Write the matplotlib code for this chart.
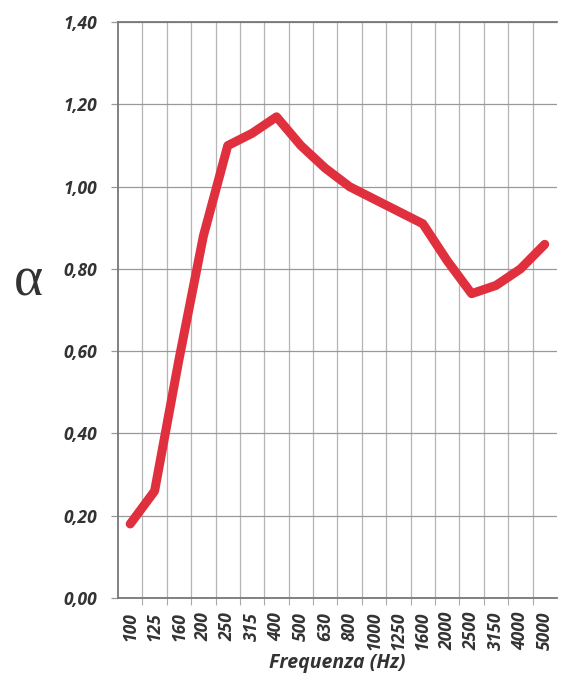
import matplotlib.pyplot as plt
import numpy as np

# third-octave bands and sound absorption coefficient
bands = ["100", "125", "160", "200", "250", "315", "400", "500", "630",
         "800", "1000", "1250", "1600", "2000", "2500", "3150", "4000", "5000"]
alpha = [0.18, 0.26, 0.58, 0.88, 1.10, 1.13, 1.17, 1.10, 1.045,
         1.00, 0.97, 0.94, 0.91, 0.82, 0.74, 0.76, 0.80, 0.86]
yticks = [0.0, 0.2, 0.4, 0.6, 0.8, 1.0, 1.2, 1.4]
ylabels = ["0,00", "0,20", "0,40", "0,60", "0,80", "1,00", "1,20", "1,40"]

fig = plt.figure(figsize=(5.62, 6.95), dpi=100)
ax = fig.add_axes([0.21, 0.1396, 0.781, 0.8284])

x = np.arange(len(bands))
ax.plot(x, alpha, color="#e0303e", lw=6.5, solid_joinstyle="round",
        solid_capstyle="round", zorder=3)

ax.set_xlim(-0.5, len(bands) - 0.5)
ax.set_ylim(0, 1.4)

font = dict(fontweight="bold", fontstyle="italic", color="#333333", family="Open Sans")

# grid: vertical lines between bands, horizontal at each 0.2
ax.set_xticks(x)
ax.set_xticks(np.arange(len(bands) - 1) + 0.5, minor=True)
ax.set_xticklabels(bands, rotation=90, fontsize=12.5, **font)
ax.tick_params(axis="x", which="major", length=0, pad=10)
ax.tick_params(axis="x", which="minor", length=5, color="#aaaaaa", width=0.8)
ax.grid(True, which="minor", axis="x", color="#b5b5b5", lw=0.9)

ax.set_yticks(yticks)
ax.set_yticklabels(ylabels, fontsize=12.5, **font)
ax.tick_params(axis="y", length=5, color="#999999", width=0.9, pad=10)
ax.grid(True, which="major", axis="y", color="#999999", lw=0.9)

for side in ["left", "bottom", "top"]:
    ax.spines[side].set_color("#777777")
    ax.spines[side].set_linewidth(1.3)
ax.spines["right"].set_visible(False)

ax.set_xlabel("Frequenza (Hz)", fontsize=14, labelpad=2, **font)

fig.text(0.05, 0.595, "\u03b1", fontsize=40, family="Liberation Serif",
         color="#333333", ha="center", va="center")

fig.savefig("out.png", dpi=100)
